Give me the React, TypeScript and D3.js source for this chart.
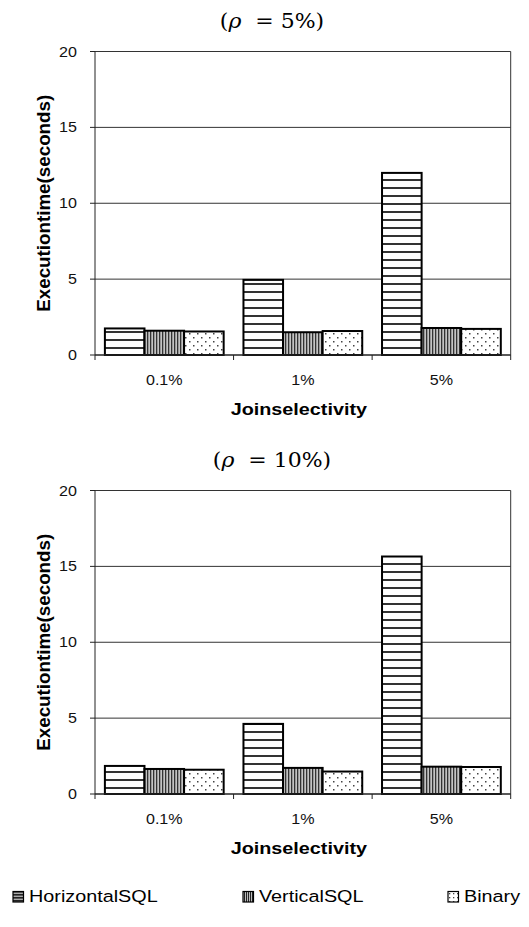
import React from 'react';
import * as d3 from 'd3';

const categories = ['0.1%', '1%', '5%'];
const seriesNames = ['HorizontalSQL', 'VerticalSQL', 'Binary'];
const yTicks = [0, 5, 10, 15, 20];

// rho = 5%
const horizontal5 = [1.75, 4.95, 12.0];
const vertical5 = [1.6, 1.5, 1.78];
const binary5 = [1.55, 1.58, 1.72];

// rho = 10%
const horizontal10 = [1.85, 4.62, 15.65];
const vertical10 = [1.65, 1.72, 1.8];
const binary10 = [1.6, 1.48, 1.78];

const patternIds = ['pat-h', 'pat-v', 'pat-b'];
const font = 'Liberation Sans, Arial, sans-serif';
const SX = 1.2; // the original figure is stretched sideways

interface PanelProps {
  title: string;
  top: number;
  values: number[][];
}

const left = 95;
const right = 510.7;
const plotH = 303.5;

const Panel: React.FC<PanelProps> = ({ title, top, values }) => {
  const bottom = top + plotH;
  const x = d3.scaleBand().domain(categories).range([left, right]).padding(0);
  const inner = d3
    .scaleBand()
    .domain(seriesNames)
    .range([0, x.bandwidth()])
    .paddingInner(0)
    .paddingOuter(0.25);
  const y = d3.scaleLinear().domain([0, 20]).range([bottom, top]);

  const boundaries = [...categories.map((c) => x(c) as number), right];

  return (
    <g>
      {/* title */}
      <text
        transform={`translate(272, ${top - 24}) scale(1.1,1)`}
        textAnchor="middle"
        fontFamily="DejaVu Serif, Liberation Serif, serif"
        fontSize={20}
        style={{ whiteSpace: 'pre' }}
      >
        (<tspan fontStyle="italic">ρ</tspan>{'  = '}
        {title})
      </text>

      {/* grid */}
      {yTicks
        .filter((t) => t > 0)
        .map((t) => (
          <line key={t} x1={left} x2={right} y1={y(t)} y2={y(t)} stroke="#333" strokeWidth={1} />
        ))}
      <line x1={right} x2={right} y1={top} y2={bottom} stroke="#333" strokeWidth={1} />

      {/* bars */}
      {values.map((vals, si) =>
        vals.map((v, ci) => {
          const bx = (x(categories[ci]) as number) + (inner(seriesNames[si]) as number);
          return (
            <rect
              key={`${si}-${ci}`}
              x={bx}
              y={y(v)}
              width={inner.bandwidth()}
              height={bottom - y(v)}
              fill={`url(#${patternIds[si]})`}
              stroke="#000"
              strokeWidth={2}
            />
          );
        })
      )}

      {/* y axis */}
      <line x1={left} x2={left} y1={top} y2={bottom} stroke="#222" strokeWidth={1} />
      {yTicks.map((t) => (
        <g key={t}>
          <line x1={left - 5} x2={left} y1={y(t)} y2={y(t)} stroke="#222" />
          <text
            transform={`translate(77, ${y(t)}) scale(1.15,1)`}
            textAnchor="end"
            dominantBaseline="central"
            fontFamily={font}
            fontSize={14}
            fill="#111"
          >
            {t}
          </text>
        </g>
      ))}
      <text
        transform={`translate(50, ${(top + bottom) / 2}) rotate(-90)`}
        textAnchor="middle"
        fontFamily={font}
        fontWeight="bold"
        fontSize={17.5}
        textLength={217}
        lengthAdjust="spacingAndGlyphs"
      >
        Executiontime(seconds)
      </text>

      {/* x axis */}
      <line x1={left} x2={right} y1={bottom} y2={bottom} stroke="#222" strokeWidth={1.5} />
      {boundaries.map((bx, i) => (
        <line key={i} x1={bx} x2={bx} y1={bottom} y2={bottom + 5} stroke="#222" />
      ))}
      {categories.map((c) => (
        <text
          key={c}
          transform={`translate(${(x(c) as number) + x.bandwidth() / 2}, ${bottom + 25}) scale(1.15,1)`}
          textAnchor="middle"
          dominantBaseline="central"
          fontFamily={font}
          fontSize={14}
          fill="#111"
        >
          {c}
        </text>
      ))}
      <text
        transform={`translate(${(left + right) / 2 - 4}, ${bottom + 55}) scale(${SX},1)`}
        textAnchor="middle"
        dominantBaseline="central"
        fontFamily={font}
        fontWeight="bold"
        fontSize={16.5}
      >
        Joinselectivity
      </text>
    </g>
  );
};

const legendX = [13, 243, 448];
const legendPatternIds = ['leg-h', 'leg-v', 'leg-b'];

const App: React.FC = () => {
  return (
    <svg width={529} height={927} style={{ position: 'absolute', left: 0, top: 0, background: '#fff' }}>
      <defs>
        <pattern id="pat-h" patternUnits="userSpaceOnUse" width={8} height={8}>
          <rect width={8} height={8} fill="#fff" />
          <rect y={3} width={8} height={2} fill="#333" />
        </pattern>
        <pattern id="pat-v" patternUnits="userSpaceOnUse" width={3} height={3}>
          <rect width={3} height={3} fill="#c4c4c4" />
          <rect width={1.3} height={3} fill="#333" />
        </pattern>
        <pattern id="pat-b" patternUnits="userSpaceOnUse" width={8} height={8}>
          <rect width={8} height={8} fill="#fff" />
          <rect x={1} y={1} width={1.5} height={1.5} fill="#444" />
          <rect x={5} y={5} width={1.5} height={1.5} fill="#444" />
        </pattern>
        <pattern id="leg-h" patternUnits="userSpaceOnUse" width={3} height={3}>
          <rect width={3} height={3} fill="#aaa" />
          <rect width={3} height={1.6} fill="#222" />
        </pattern>
        <pattern id="leg-v" patternUnits="userSpaceOnUse" width={2} height={2}>
          <rect width={2} height={2} fill="#bbb" />
          <rect width={1} height={2} fill="#222" />
        </pattern>
        <pattern id="leg-b" patternUnits="userSpaceOnUse" width={4} height={4}>
          <rect width={4} height={4} fill="#fff" />
          <rect x={1} y={1} width={1.3} height={1.3} fill="#444" />
        </pattern>
      </defs>

      <Panel title="5%" top={51.5} values={[horizontal5, vertical5, binary5]} />
      <Panel title="10%" top={490.5} values={[horizontal10, vertical10, binary10]} />

      {/* legend */}
      {seriesNames.map((s, i) => (
        <g key={s}>
          <rect
            x={legendX[i]}
            y={891.5}
            width={10.5}
            height={10.5}
            fill={`url(#${legendPatternIds[i]})`}
            stroke="#000"
            strokeWidth={1.2}
          />
          <text
            transform={`translate(${legendX[i] + 16}, ${897}) scale(${SX},1)`}
            dominantBaseline="central"
            fontFamily={font}
            fontSize={16.5}
          >
            {s}
          </text>
        </g>
      ))}
    </svg>
  );
};

export default App;
